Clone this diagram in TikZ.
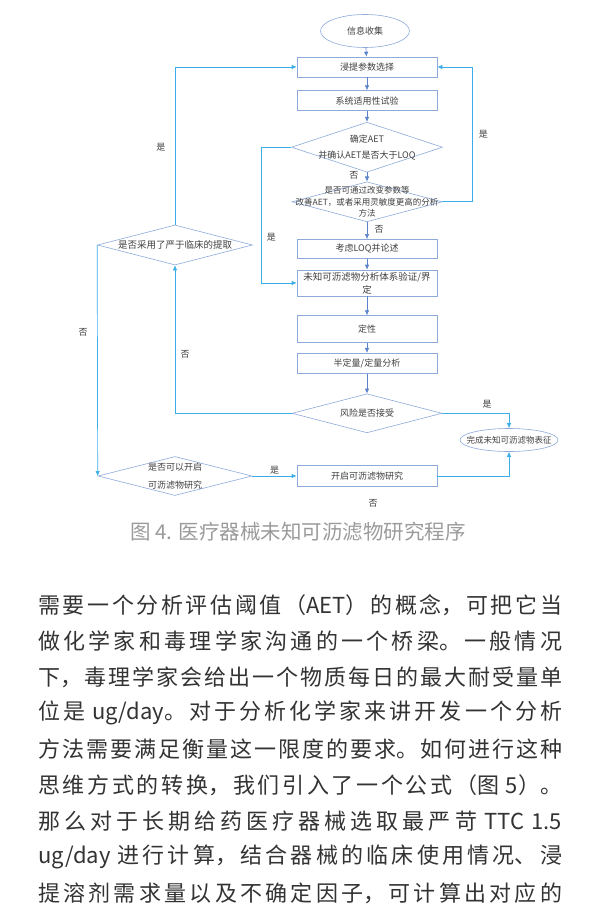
\documentclass[tikz,border=0pt]{standalone}
\usepackage{fontspec}
\newfontfamily\cjk{Noto Sans CJK SC}
\usetikzlibrary{positioning, arrows.meta, shapes.geometric}
\definecolor{shapeline}{HTML}{8EAADB}
\definecolor{flowline}{HTML}{5B83CC}
\definecolor{loopline}{HTML}{3AAEE8}
\definecolor{labeltext}{HTML}{404040}
\definecolor{captiongray}{HTML}{9B9B9B}
\definecolor{bodytext}{HTML}{333333}
\XeTeXlinebreaklocale "zh"
\XeTeXlinebreakskip=0pt plus 4pt
\tolerance=10000

\begin{document}
\begin{tikzpicture}[
  x=1pt, y=-1pt,
  every node/.style={font=\cjk\fontsize{9}{11}\selectfont, text=labeltext},
  >={Latex[length=5pt, width=4.5pt]},
  box/.style={
    draw=shapeline, line width=0.6pt,
    minimum width=140pt, minimum height=20pt,
    inner sep=1pt, align=center
  },
  oval/.style={ellipse, draw=shapeline, line width=0.6pt, inner sep=0pt},
  dia/.style={
    diamond, draw=shapeline, line width=0.6pt, inner sep=0pt,
    minimum width=150pt, minimum height=40pt
  },
  flow/.style={->, line width=0.6pt, draw=flowline},
  loop/.style={->, line width=0.7pt, draw=loopline},
  para/.style={
    anchor=west, inner sep=0pt, text width=524pt, align=justify,
    font=\cjk\fontsize{22}{26}\selectfont, text=bodytext
  }
]
\fill[white] (0,0) rectangle (600,912);
\useasboundingbox (0,0) rectangle (600,912);

% Main column
\node[oval, minimum width=89pt, minimum height=33pt] (collect) at (365,31) {信息收集};
\node[box] (param) at (367,67) {浸提参数选择};
\node[box, below=13pt of param] (suit) {系统适用性试验};
\node[dia, minimum width=151pt, minimum height=50pt, below=11pt of suit] (aet) {};
\node[align=center, font=\cjk\fontsize{9}{16}\selectfont] (aettext) at (aet) {确定AET\\并确认AET是否大于LOQ};
\node[dia, below=9pt of aet] (adjust) {};
\node[align=center, font=\cjk\fontsize{8.5}{11.5}\selectfont] (adjusttext) at (adjust)
  {是否可通过改变参数等\\改善AET，或者采用灵敏度更高的分析\\方法};
\node[box, minimum height=19pt, below=17pt of adjust] (loq) {考虑LOQ并论述};
\node[box, minimum height=26pt, below=11pt of loq, font=\cjk\fontsize{9.5}{13}\selectfont] (verify)
  {未知可沥滤物分析体系验证/界\\定};
\node[box, minimum height=27pt, below=19pt of verify] (qual) {定性};
\node[box, below=10pt of qual] (quant) {半定量/定量分析};
\node[dia, minimum height=39pt, below=20pt of quant] (risk) {};
\node (risktext) at (risk) {风险是否接受};

% Left decisions and end
\node[dia, minimum width=155pt] (clinic) at (175,245) {};
\node[font=\cjk\fontsize{9.5}{11}\selectfont] (clinictext) at (clinic) {是否采用了严于临床的提取};
\node[dia, minimum width=154pt, minimum height=39pt] (startq) at (175,476) {};
\node[align=center, font=\cjk\fontsize{9}{18}\selectfont] (startqtext) at (startq) {是否可以开启\\可沥滤物研究};
\node[box, minimum height=21pt] (startbox) at (367,476) {开启可沥滤物研究};
\node[oval, minimum width=98pt, minimum height=23pt] (done) at (509,440) {};
\node[font=\cjk\fontsize{8.5}{10}\selectfont] (donetext) at (done) {完成未知可沥滤物表征};
\node (strayno) at (373,503) {否};

% Arrows
\draw[flow] (collect) -- (param);
\draw[flow] (param) -- (suit);
\draw[flow] (suit) -- (aet);
\draw[flow] (aet) -- node[pos=0.3, left=5pt] {否} (adjust);
\draw[flow] (adjust) -- node[pos=0.4, right=4pt] {否} (loq);
\draw[flow] (loq) -- (verify);
\draw[flow] (verify) -- (qual);
\draw[flow] (qual) -- (quant);
\draw[flow] (quant) -- (risk);

\draw[loop] (adjust.east) -| node[pos=0.75, right=3pt] {是} ([xshift=35pt]param.east) -- (param.east);
\draw[loop] (aet.west) -- ++(-30,0) |- node[pos=0.33, right=2pt] {是} (verify.west);
\draw[loop] (risk.west) -| node[pos=0.7, right=2pt] {否} (clinic.south);
\draw[loop] (clinic.north) |- node[pos=0.245, left=6pt] {是} (param.west);
\draw[loop] (clinic.west) -- node[pos=0.38, left=6pt] {否} (startq.west);
\draw[loop] (startq.east) -- node[above=-2pt] {是} (startbox.west);
\draw[loop] (risk.east) -| node[pos=0.336, above=1pt] {是} (done.north);
\draw[loop] (startbox.east) -| (done.south);

% Caption and text
\node[font=\cjk\fontsize{20.5}{24}\selectfont, text=captiongray] (caption) at (298,532)
  {图 4. 医疗器械未知可沥滤物研究程序};
\node[para] (l1) at (38,605) {\parfillskip=0pt 需要一个分析评估阈值（AET）的概念，可把它当\par};
\node[para] (l2) at (38,641) {\parfillskip=0pt 做化学家和毒理学家沟通的一个桥梁。一般情况\par};
\node[para] (l3) at (38,677) {\parfillskip=0pt 下，毒理学家会给出一个物质每日的最大耐受量单\par};
\node[para] (l4) at (38,713) {\parfillskip=0pt 位是 \mbox{ug/day}。对于分析化学家来讲开发一个分析\par};
\node[para] (l5) at (38,749) {\parfillskip=0pt 方法需要满足衡量这一限度的要求。如何进行这种\par};
\node[para] (l6) at (38,785) {\parfillskip=0pt 思维方式的转换，我们引入了一个公式（图 5）。\par};
\node[para] (l7) at (38,821) {\parfillskip=0pt 那么对于长期给药医疗器械选取最严苛 TTC 1.5\par};
\node[para] (l8) at (38,857) {\parfillskip=0pt \mbox{ug/day} 进行计算，结合器械的临床使用情况、浸\par};
\node[para] (l9) at (38,893) {\parfillskip=0pt 提溶剂需求量以及不确定因子，可计算出对应的\par};

\end{tikzpicture}
\end{document}
